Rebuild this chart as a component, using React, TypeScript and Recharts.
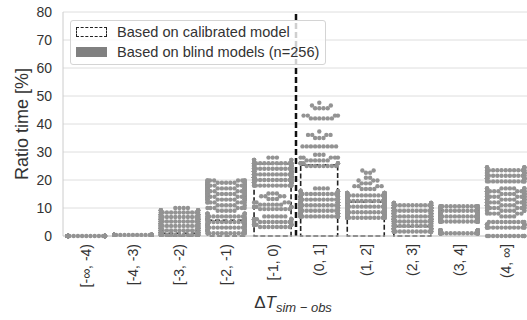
import React from "react";
import {
  ComposedChart,
  Bar,
  Scatter,
  XAxis,
  YAxis,
  CartesianGrid,
  ReferenceLine,
} from "recharts";

// bins of the temperature difference
const categories = [
  "[-∞, -4)",
  "[-4, -3)",
  "[-3, -2)",
  "[-2, -1)",
  "[-1, 0)",
  "(0, 1]",
  "(1, 2]",
  "(2, 3]",
  "(3, 4]",
  "(4, ∞]",
];

// ratio time [%] for the calibrated model
const calibrated = [0, 0, 1, 5.6, 25.8, 25.4, 12.2, 3.4, 0, 0];

// blind models: [ratio time, number of models]
const blindNegInf4 = [[0, 256]];
const blind43 = [[0.4, 256]];
const blind32 = [
  [0.4, 26], [1.2, 26], [2, 26], [2.8, 26], [3.6, 24], [4.4, 24], [5.2, 22],
  [6, 22], [6.8, 20], [7.6, 16], [8.4, 12], [9.2, 8], [10, 4],
];
const blind21 = [
  [1, 12], [2, 14], [3, 14], [4, 14], [5, 14], [6, 14], [7, 12], [8, 8],
  [9, 5], [10, 6], [11, 6], [12, 7],
  [13, 14], [14, 16], [15, 18], [16, 20], [17, 20], [18, 20], [19, 14], [19.8, 8],
];
const blind10 = [
  [3.2, 8], [4, 10], [5, 10], [6, 10], [7, 6],
  [9.6, 8], [10.4, 8], [11.2, 6], [12, 4],
  [13.2, 3], [14.2, 4], [15.2, 3],
  [18, 14], [19, 18], [20, 20], [21, 20], [22, 20], [23, 20], [24, 20], [25, 20], [26, 16],
  [27.2, 5], [28, 3],
];
const blind01 = [
  [7, 22], [8, 24], [9, 24], [10, 24], [11, 22], [12, 20], [13, 18], [14, 14],
  [15, 12], [16, 8], [17, 4],
  [25, 8], [26, 8], [27, 6], [28, 5], [29, 3],
  [32, 9],
  [35, 3], [36.1, 4], [37.3, 1],
  [42, 6], [43, 4], [45.6, 4], [46.6, 2], [47.6, 1],
];
const blind12 = [
  [6.5, 18], [7.5, 24], [8.5, 26], [9.5, 28], [10.5, 28], [11.5, 28], [12.5, 28],
  [13.5, 26], [14.5, 20], [15.4, 10],
  [16.8, 4], [17.8, 4], [18.8, 3], [19.8, 3], [20.8, 2],
  [22.6, 2], [23.4, 2],
];
const blind23 = [
  [1.6, 20], [2.6, 22], [3.6, 18], [4.4, 6],
  [5.2, 20], [6, 24], [7, 26], [8, 28], [9, 30], [10, 30], [11, 22], [11.8, 10],
];
const blind34 = [
  [1, 30], [2, 26],
  [5.2, 26], [6, 30], [7, 32], [8, 34], [9, 34], [10, 30], [10.6, 14],
];
const blind4Inf = [
  [0, 12],
  [3, 14], [4, 14], [5, 10],
  [7, 4], [8, 6], [9, 8], [10, 10], [11, 12], [12, 14], [13, 16], [14, 16],
  [15, 16], [16, 14], [17, 10],
  [19.5, 12], [20.5, 16], [21.5, 16], [22.5, 16], [23.5, 12], [24.5, 8],
];

const yTicks = [0, 10, 20, 30, 40, 50, 60, 70, 80];

const blindLevels = [
  blindNegInf4, blind43, blind32, blind21, blind10,
  blind01, blind12, blind23, blind34, blind4Inf,
];

const W = 540;
const H = 320;
const MARGIN = { top: 12, right: 11, bottom: 0, left: 0 };
const Y_AXIS_W = 63;
const X_AXIS_H = 84;
const PLOT_H = H - MARGIN.top - MARGIN.bottom - X_AXIS_H;
const PLOT_W = W - MARGIN.left - MARGIN.right - Y_AXIS_W;
const PX_PER_UNIT = PLOT_H / 80;
const BAND = PLOT_W / categories.length;
const HALF = (BAND * 0.8) / 2;
const DOT_R = 2.2;
const DOT_GAP = 4.2;

const FONT = "'Liberation Sans', Arial, sans-serif";
const TEXT = "#333333";

// beeswarm: dots that don't fit in the band go to the edges (like seaborn)
function swarmOffsets(values: number[]): number[] {
  const order = values.map((_, i) => i).sort((a, b) => values[a] - values[b]);
  const placed: { x: number; y: number }[] = [];
  const out = new Array(values.length).fill(0);
  let side = 1;
  for (const i of order) {
    const y = values[i] * PX_PER_UNIT;
    const near = placed.filter((p) => Math.abs(p.y - y) < DOT_GAP);
    const cands = [0];
    for (const p of near) {
      const dx = Math.sqrt(DOT_GAP * DOT_GAP - (p.y - y) ** 2);
      cands.push(p.x + dx, p.x - dx);
    }
    cands.sort((a, b) => Math.abs(a) - Math.abs(b));
    let found: number | null = null;
    for (const c of cands) {
      if (Math.abs(c) > HALF + 1e-6) break;
      if (near.every((p) => (p.x - c) ** 2 + (p.y - y) ** 2 >= DOT_GAP * DOT_GAP - 1e-6)) {
        found = c;
        break;
      }
    }
    if (found === null) {
      out[i] = side * HALF;
      side = -side;
    } else {
      out[i] = found;
      placed.push({ x: found, y });
    }
  }
  return out;
}

const barData = categories.map((name, i) => ({ name, calibrated: calibrated[i] }));

const dots = blindLevels.flatMap((levels, ci) => {
  const values = levels.flatMap(([v, n]) => new Array(n).fill(v) as number[]);
  const offs = swarmOffsets(values);
  return values.map((v, k) => ({ x: ci, y: v, dx: offs[k] }));
});

const Dot = (props: any) => {
  const { cx, cy, payload } = props;
  if (cx == null || cy == null) return null;
  return <circle cx={cx + payload.dx} cy={cy} r={DOT_R} fill="#939393" />;
};

const XTick = (props: any) => {
  const { x, y, payload } = props;
  return (
    <text
      x={x}
      y={y}
      transform={`rotate(-90, ${x}, ${y})`}
      textAnchor="end"
      dy="0.35em"
      fontSize={14}
      fontFamily={FONT}
      fill={TEXT}
    >
      {payload.value}
    </text>
  );
};

const XLabel = (props: any) => {
  const { viewBox } = props;
  const cx = viewBox.x + viewBox.width / 2 - 3;
  return (
    <text x={cx} y={308} textAnchor="middle" fontFamily={FONT} fill={TEXT} fontSize={17}>
      <tspan>Δ</tspan>
      <tspan fontStyle="italic">T</tspan>
      <tspan fontStyle="italic" fontSize={13} dy={4}>
        sim − obs
      </tspan>
    </text>
  );
};

const YLabel = () => (
  <text
    x={22}
    y={124}
    transform="rotate(-90, 22, 124)"
    textAnchor="middle"
    dy="0.35em"
    fontFamily={FONT}
    fill={TEXT}
    fontSize={18}
  >
    Ratio time [%]
  </text>
);

const LegendBox = () => (
  <div
    style={{
      position: "absolute",
      left: 70,
      top: 20,
      width: 254,
      height: 43,
      border: "1px solid #d4d4d4",
      borderRadius: 3,
      background: "rgba(255,255,255,0.8)",
      fontFamily: FONT,
      fontSize: 14.6,
      color: TEXT,
    }}
  >
    <div style={{ position: "absolute", left: 5, top: 6, width: 29, height: 8, border: "1.5px dashed #222", background: "#fff" }} />
    <div style={{ position: "absolute", left: 46, top: 2, lineHeight: "18px", whiteSpace: "nowrap" }}>Based on calibrated model</div>
    <div style={{ position: "absolute", left: 5, top: 26, width: 31, height: 10, background: "#808080" }} />
    <div style={{ position: "absolute", left: 46, top: 22, lineHeight: "18px", whiteSpace: "nowrap" }}>Based on blind models (n=256)</div>
  </div>
);

export default function App() {
  return (
    <div style={{ position: "absolute", left: 0, top: 0, width: 527, height: 320, overflow: "hidden", background: "#fff" }}>
      <ComposedChart width={W} height={H} data={barData} margin={MARGIN} barCategoryGap="10%">
        <CartesianGrid vertical={false} stroke="#dedede" />
        <XAxis
          xAxisId="cat"
          dataKey="name"
          interval={0}
          tick={<XTick />}
          tickLine={false}
          tickSize={0}
          tickMargin={8}
          axisLine={{ stroke: "#cccccc" }}
          height={X_AXIS_H}
          label={<XLabel />}
        />
        <XAxis xAxisId="num" type="number" dataKey="x" domain={[-0.5, 9.5]} hide />
        <YAxis
          domain={[0, 80]}
          ticks={yTicks}
          width={Y_AXIS_W}
          tickLine={false}
          tickSize={0}
          tickMargin={11}
          axisLine={{ stroke: "#cccccc" }}
          tick={{ fontSize: 14, fontFamily: FONT, fill: TEXT }}
          label={<YLabel />}
        />
        <Scatter xAxisId="num" data={dots} dataKey="y" shape={<Dot />} isAnimationActive={false} />
        <Bar
          xAxisId="cat"
          dataKey="calibrated"
          fill="none"
          stroke="#222"
          strokeWidth={1.6}
          strokeDasharray="5 2.5"
          isAnimationActive={false}
        />
        <ReferenceLine xAxisId="num" x={4.5} stroke="#111" strokeWidth={2.5} strokeDasharray="6 3" />
      </ComposedChart>
      <LegendBox />
    </div>
  );
}
